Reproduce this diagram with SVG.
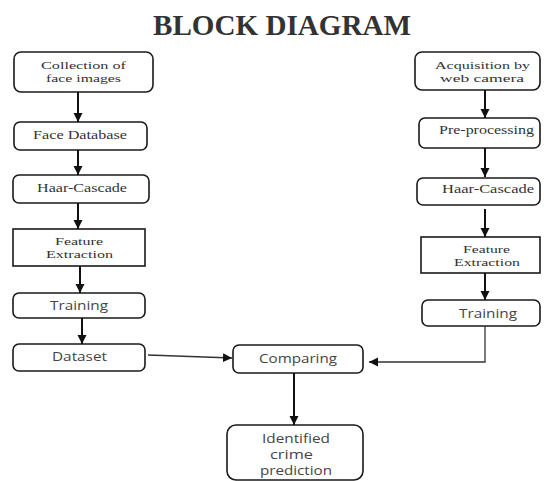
<svg xmlns="http://www.w3.org/2000/svg" width="544" height="481" viewBox="0 0 544 481">
<style>
.box{fill:#fff;stroke:#1a1a1a;stroke-width:1.6}
.serif{font-family:"Liberation Serif","Times New Roman",serif;font-size:13px;fill:#333;text-anchor:middle}
.two{font-size:11px}
.sans{font-family:"Open Sans","Liberation Sans",Arial,sans-serif;font-size:12px;fill:#444;text-anchor:middle}
.title{font-family:"Liberation Serif","Times New Roman",serif;font-size:29px;font-weight:bold;fill:#333}
.conn{stroke:#111;stroke-width:2;fill:none}
.thin{stroke:#333;stroke-width:1.3;fill:none}
</style>
<defs>
<marker id="ah" markerUnits="userSpaceOnUse" markerWidth="10" markerHeight="10" viewBox="0 0 10 10" refX="9" refY="5" orient="auto">
<path d="M0,0.5 L9,5 L0,9.5 Z" fill="#111"/>
</marker>
</defs>
<rect width="544" height="481" fill="#fff"/>
<text class="title" x="153" y="35" textLength="258" lengthAdjust="spacingAndGlyphs">BLOCK DIAGRAM</text>

<g id="collection">
<rect class="box" x="14" y="52" width="139" height="40" rx="7"/>
<text class="serif two" x="83.5" y="69" textLength="85" lengthAdjust="spacingAndGlyphs">Collection of</text>
<text class="serif two" x="83.5" y="82" textLength="75" lengthAdjust="spacingAndGlyphs">face images</text>
</g>
<g id="facedb">
<rect class="box" x="14" y="122" width="133" height="28" rx="6"/>
<text class="serif" x="80" y="139" textLength="94" lengthAdjust="spacingAndGlyphs">Face Database</text>
</g>
<g id="haar-left">
<rect class="box" x="13" y="175" width="136" height="28" rx="6"/>
<text class="serif" x="82" y="192" textLength="90" lengthAdjust="spacingAndGlyphs">Haar-Cascade</text>
</g>
<g id="feature-left">
<rect class="box" x="13" y="229" width="132" height="37"/>
<text class="serif two" x="79" y="245" textLength="48" lengthAdjust="spacingAndGlyphs">Feature</text>
<text class="serif two" x="79.5" y="258" textLength="67" lengthAdjust="spacingAndGlyphs">Extraction</text>
</g>
<g id="training-left">
<rect class="box" x="13" y="293" width="132" height="25" rx="6"/>
<text class="sans" x="79" y="310" textLength="58" lengthAdjust="spacingAndGlyphs">Training</text>
</g>
<g id="dataset">
<rect class="box" x="13" y="344" width="132" height="27" rx="6"/>
<text class="sans" x="79.5" y="361" textLength="55" lengthAdjust="spacingAndGlyphs">Dataset</text>
</g>

<g id="acquisition">
<rect class="box" x="415" y="52" width="125" height="38" rx="7"/>
<text class="serif two" x="482.5" y="69" textLength="95" lengthAdjust="spacingAndGlyphs">Acquisition by</text>
<text class="serif two" x="482" y="82" textLength="84" lengthAdjust="spacingAndGlyphs">web camera</text>
</g>
<g id="preprocessing">
<rect class="box" x="419" y="118" width="121" height="30" rx="6"/>
<text class="serif" x="486.5" y="134" textLength="95" lengthAdjust="spacingAndGlyphs">Pre-processing</text>
</g>
<g id="haar-right">
<rect class="box" x="417" y="178" width="123" height="27" rx="6"/>
<text class="serif" x="488" y="193" textLength="92" lengthAdjust="spacingAndGlyphs">Haar-Cascade</text>
</g>
<g id="feature-right">
<rect class="box" x="421" y="237" width="119" height="36"/>
<text class="serif two" x="486.5" y="253" textLength="47" lengthAdjust="spacingAndGlyphs">Feature</text>
<text class="serif two" x="487" y="266" textLength="66" lengthAdjust="spacingAndGlyphs">Extraction</text>
</g>
<g id="training-right">
<rect class="box" x="422" y="300" width="118" height="26" rx="6"/>
<text class="sans" x="488" y="318" textLength="58" lengthAdjust="spacingAndGlyphs">Training</text>
</g>

<g id="comparing">
<rect class="box" x="233" y="345" width="130" height="28" rx="6"/>
<text class="sans" x="298" y="363" textLength="78" lengthAdjust="spacingAndGlyphs">Comparing</text>
</g>
<g id="identified">
<rect class="box" x="227" y="425" width="136" height="55" rx="9"/>
<text class="sans" x="296" y="443" textLength="68" lengthAdjust="spacingAndGlyphs">Identified</text>
<text class="sans" x="291.5" y="459" textLength="43" lengthAdjust="spacingAndGlyphs">crime</text>
<text class="sans" x="296" y="475" textLength="72" lengthAdjust="spacingAndGlyphs">prediction</text>
</g>

<g id="connectors">
<line class="conn" x1="78" y1="92" x2="78" y2="122" marker-end="url(#ah)"/>
<line class="conn" x1="78" y1="150" x2="78" y2="175" marker-end="url(#ah)"/>
<line class="conn" x1="78" y1="203" x2="78" y2="229" marker-end="url(#ah)"/>
<line class="conn" x1="80" y1="266" x2="80" y2="293" marker-end="url(#ah)"/>
<line class="conn" x1="82" y1="318" x2="82" y2="344" marker-end="url(#ah)"/>
<line class="conn" x1="485" y1="90" x2="485" y2="118" marker-end="url(#ah)"/>
<line class="conn" x1="485" y1="148" x2="485" y2="177" marker-end="url(#ah)"/>
<line class="conn" x1="485" y1="209" x2="485" y2="237" marker-end="url(#ah)"/>
<line class="conn" x1="485" y1="273" x2="485" y2="300" marker-end="url(#ah)"/>
<line class="thin" x1="148" y1="355" x2="232" y2="358" marker-end="url(#ah)"/>
<polyline class="thin" points="485,326 485,362 369,362" marker-end="url(#ah)"/>
<line class="conn" x1="294" y1="373" x2="294" y2="425" marker-end="url(#ah)"/>
</g>
</svg>
